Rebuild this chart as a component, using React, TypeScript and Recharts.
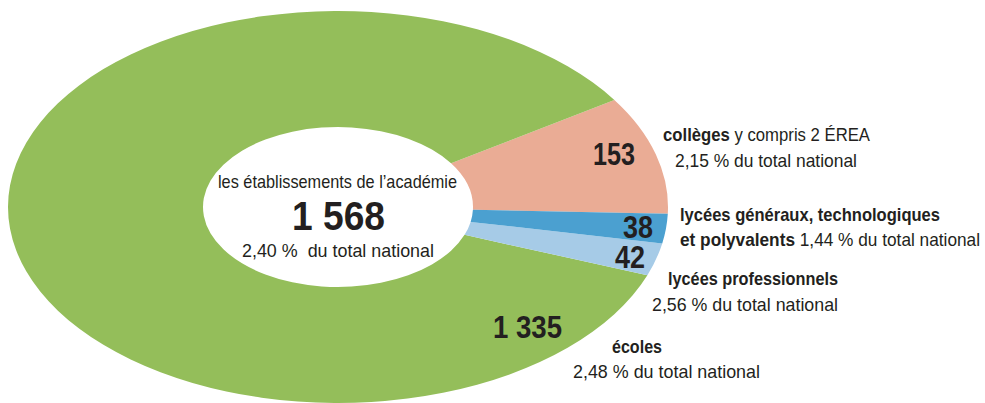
import React from 'react';
import { PieChart, Pie, Cell } from 'recharts';

// data, in the order they are drawn counterclockwise from the right side
const categories = ['collèges', 'écoles', 'lycées professionnels', 'lycées généraux, technologiques et polyvalents'];
const counts = [153, 1335, 42, 38];
const sliceColors = ['#eaac95', '#94be5a', '#a6cbe7', '#4ba0d0'];
const totalCount = 1568;
const totalShare = '2,40 %';

const data = categories.map((name, i) => ({ name, value: counts[i] }));

// condensed look: Arial-like face squeezed to the widths of the original
const FONT = '"Liberation Sans", Arial, sans-serif';
const INK = '#231f20';

// the ring is an ellipse, outer edge and hole have different aspect
const OUTER_RX = 330;
const OUTER_RY = 196;
const INNER_RX = 135;
const INNER_RY = 80;

const rad = (d: number) => (d * Math.PI) / 180;

const EllipseSector = (props: any) => {
  const { cx, cy, startAngle, endAngle, fill } = props;
  const o = (t: number) => [cx + OUTER_RX * Math.cos(rad(t)), cy - OUTER_RY * Math.sin(rad(t))];
  const n = (t: number) => [cx + INNER_RX * Math.cos(rad(t)), cy - INNER_RY * Math.sin(rad(t))];
  const large = endAngle - startAngle > 180 ? 1 : 0;
  const [x1, y1] = o(startAngle);
  const [x2, y2] = o(endAngle);
  const [x3, y3] = n(endAngle);
  const [x4, y4] = n(startAngle);
  const d = `M${x1},${y1} A${OUTER_RX},${OUTER_RY} 0 ${large} 0 ${x2},${y2} L${x3},${y3} A${INNER_RX},${INNER_RY} 0 ${large} 1 ${x4},${y4} Z`;
  return <path d={d} fill={fill} stroke="none" />;
};

const fmt = (v: number) => String(v).replace(/\B(?=(\d{3})+(?!\d))/g, ' ');

// big numbers: left x, baseline y, width
const valueLabelPos = [
  [593, 165, 42],
  [493, 338, 69],
  [615, 268, 30],
  [623, 238, 30],
];

const renderValue = (props: any) => {
  const { index, value } = props;
  const [x, y, w] = valueLabelPos[index];
  return (
    <text
      key={`v-${index}`}
      x={x}
      y={y}
      textLength={w}
      lengthAdjust="spacingAndGlyphs"
      fontFamily={FONT}
      fontWeight="bold"
      fontSize={31}
      fill={INK}
    >
      {fmt(value)}
    </text>
  );
};

const T = ({ x, y, w, size = 18.5, bold = false, children }: any) => (
  <text
    x={x}
    y={y}
    textLength={w}
    lengthAdjust="spacingAndGlyphs"
    fontFamily={FONT}
    fontSize={size}
    fontWeight={bold ? 'bold' : 'normal'}
    fill={INK}
    style={{ whiteSpace: 'pre' }}
  >
    {children}
  </text>
);

export default function App() {
  return (
    <div style={{ position: 'absolute', left: 0, top: 0, width: 985, height: 403, background: '#fff' }}>
      <PieChart width={985} height={403} margin={{ top: 0, right: 0, bottom: 0, left: 0 }}>
        <Pie
          data={data}
          dataKey="value"
          nameKey="name"
          cx={338}
          cy={207}
          innerRadius={INNER_RX}
          outerRadius={OUTER_RX}
          startAngle={-2}
          endAngle={358}
          stroke="none"
          shape={EllipseSector}
          label={renderValue}
          labelLine={false}
          isAnimationActive={false}
        >
          {data.map((d, i) => (
            <Cell key={d.name} fill={sliceColors[i]} />
          ))}
        </Pie>
      </PieChart>

      <svg width={985} height={403} style={{ position: 'absolute', left: 0, top: 0, pointerEvents: 'none' }}>
        {/* centre */}
        <T x={218} y={188} w={239}>les établissements de l’académie</T>
        <T x={292} y={230} w={93} size={40} bold>{fmt(totalCount)}</T>
        <T x={242} y={257} w={192}>{`${totalShare}  du total national`}</T>

        {/* right side */}
        <T x={663} y={141} w={207}>
          <tspan fontWeight="bold">collèges</tspan> y compris 2 ÉREA
        </T>
        <T x={675} y={167} w={182}>2,15 % du total national</T>

        <T x={680} y={221} w={260} bold>lycées généraux, technologiques</T>
        <T x={680} y={246} w={300}>
          <tspan fontWeight="bold">et polyvalents</tspan> 1,44 % du total national
        </T>

        <T x={668} y={285} w={170} bold>lycées professionnels</T>
        <T x={652} y={311} w={186}>2,56 % du total national</T>

        <T x={612} y={353} w={50} bold>écoles</T>
        <T x={573} y={378} w={187}>2,48 % du total national</T>
      </svg>
    </div>
  );
}
